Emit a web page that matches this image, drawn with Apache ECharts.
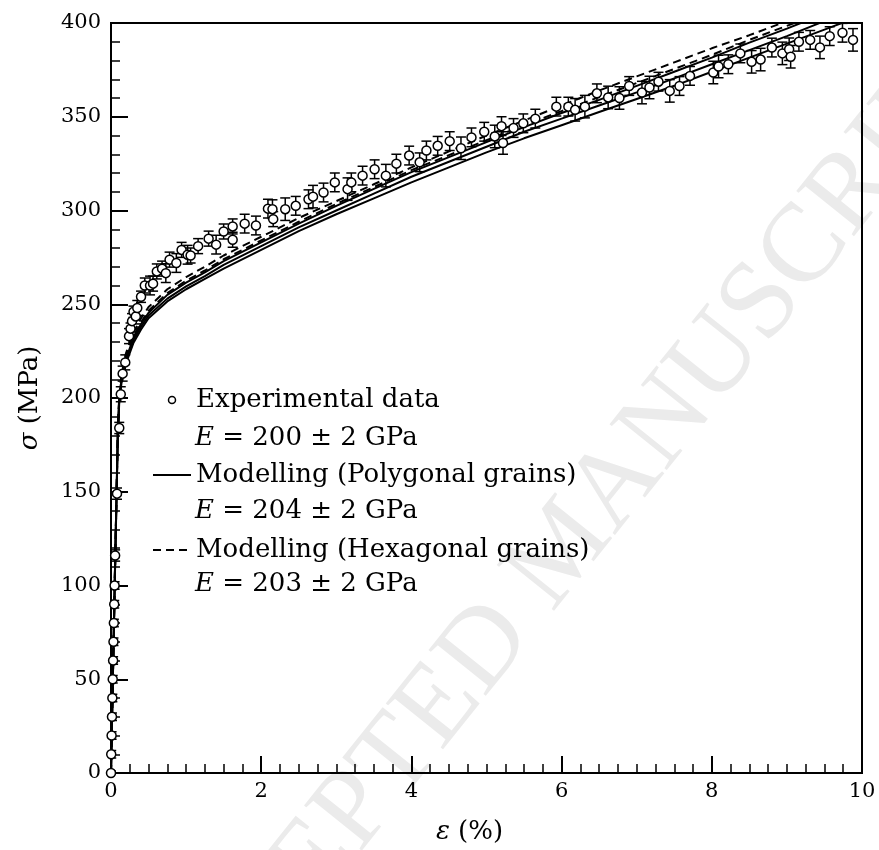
<!DOCTYPE html>
<html>
<head>
<meta charset="utf-8">
<script src="https://cdn.jsdelivr.net/npm/echarts@6/dist/echarts.min.js"></script>
<style>
  html, body { margin: 0; padding: 0; background: #fff; }
  #chart { width: 879px; height: 850px; }
</style>
</head>
<body>
<div id="chart"></div>
<script>
// experimental points (strain %, stress MPa, error bar MPa)
var expX = [0, 0.003, 0.008, 0.013, 0.018, 0.023, 0.028, 0.033, 0.038, 0.043, 0.048, 0.055, 0.08, 0.11, 0.13,
  0.155, 0.19, 0.24, 0.26, 0.28, 0.30, 0.33, 0.35, 0.40, 0.45, 0.52, 0.56, 0.61, 0.68, 0.73, 0.78, 0.87, 0.94,
  1.02, 1.06, 1.16, 1.30, 1.40, 1.50, 1.62, 1.62, 1.78, 1.93, 2.09, 2.15, 2.16, 2.32, 2.46, 2.63, 2.69, 2.83,
  2.98, 3.15, 3.20, 3.35, 3.51, 3.66, 3.80, 3.97, 4.11, 4.20, 4.35, 4.51, 4.66, 4.80, 4.97, 5.11, 5.20, 5.22,
  5.36, 5.49, 5.65, 5.93, 6.09, 6.18, 6.31, 6.47, 6.62, 6.77, 6.90, 7.07, 7.17, 7.29, 7.44, 7.57, 7.71, 8.02,
  8.09, 8.22, 8.38, 8.53, 8.65, 8.80, 8.94, 9.03, 9.05, 9.16, 9.31, 9.44, 9.57, 9.74, 9.88];
var expY = [0, 10, 20, 30, 40, 50, 60, 70, 80, 90, 100, 116, 149, 184, 202,
  213, 219, 233, 237, 241, 246, 243.5, 248, 254, 260, 260, 261, 267.5, 269, 266.6, 273.8, 272, 279,
  276.4, 276, 281, 285, 281.8, 288.8, 291.5, 284.4, 293, 292, 301, 300.7, 295.4, 300.7, 302.5, 306, 307.4, 309.6,
  315, 311.4, 315, 318.6, 322, 318.6, 325, 329.3, 325.7, 332, 334.5, 337, 333.2, 339, 342, 339.5, 345, 336,
  344, 346.5, 349, 355.4, 355.4, 353.7, 355.4, 362.5, 360.3, 360, 366.4, 362.9, 365.6, 368.7, 363.8, 366.4, 371.8, 373.6,
  376.8, 378, 383.8, 379.3, 380.5, 386.9, 383.8, 386, 382, 390, 391, 387, 393, 394.8, 391];
var expErr = [1, 2, 2, 2, 2, 2, 2, 2, 2, 2, 2, 3, 3, 3, 4,
  4, 4, 4, 3, 4, 3, 4, 4, 3, 4, 5, 4, 4, 4, 5, 4, 5, 4,
  5, 4, 4, 4, 5, 4, 4, 4, 5, 5, 5, 5, 4, 6, 5, 5, 6, 5,
  5, 6, 5, 5, 5, 6, 5, 5, 5, 5, 5, 5, 6, 5, 5, 6, 5, 6,
  5, 5, 5, 5, 5, 6, 6, 5, 6, 6, 5, 6, 6, 5, 6, 5, 5, 6,
  6, 5, 5, 6, 6, 5, 6, 6, 6, 5, 5, 6, 5, 5, 6];

// modelling curves
var modelX = [0, 0.05, 0.09, 0.11, 0.14, 0.2, 0.3, 0.4, 0.5, 0.75, 1, 1.25, 1.5, 2, 2.5, 3, 3.5, 4, 4.5, 5, 5.5, 6, 6.5, 7, 7.5, 8, 8.5, 9, 9.5, 10];
var polyA = [0, 102, 180, 200, 210, 221, 232, 239.5, 245.5, 255, 261.5, 267, 273, 283, 293, 302.5, 311.5, 320.5, 328.5, 336.5, 344.5, 352, 359, 366.5, 374, 381.5, 389.5, 397, 405, 413];
var polyB = [0, 102, 180, 200, 210, 220, 231, 238, 244, 253, 259.5, 265, 271, 281, 291, 300, 309, 318, 326, 334, 342, 349, 356, 363, 370.5, 378, 385.5, 393, 401, 409];
var polyC = [0, 101, 178, 198, 208, 218.5, 229.5, 236.5, 242.5, 251.5, 258, 263.5, 269, 279, 289, 298, 306.5, 315, 323, 331, 338.5, 345.5, 352.5, 359.5, 366.5, 374, 381.5, 389, 396.5, 404];
var hexA = [0, 102, 181, 201, 212, 224, 235, 242.5, 248.5, 258, 264.5, 270, 276, 286, 296, 305, 314, 323, 331.5, 340, 348, 356, 364, 371.5, 379, 386.5, 393.5, 401, 409, 417];
var hexB = [0, 102, 181, 201, 211, 222, 233, 240.5, 246.5, 256, 262.5, 268, 274, 284, 294, 303.5, 312.5, 321.5, 329.5, 337.5, 345.5, 353, 360.5, 368, 375.5, 383, 391, 398.5, 406, 414];

var legendNames = ['Experimental data', 'Modelling (Polygonal grains)', 'Modelling (Hexagonal grains)'];
var modulusTexts = ['200 \u00b1 2 GPa', '204 \u00b1 2 GPa', '203 \u00b1 2 GPa'];

function pairs(xs, ys) {
  return xs.map(function (x, i) { return [x, ys[i]]; });
}
var expData = expX.map(function (x, i) { return [x, expY[i], expErr[i]]; });

var serif = 'DejaVu Serif';
var myChart = echarts.init(document.getElementById('chart'));

function modelSeries(name, ys, dashed) {
  return {
    name: name,
    type: 'line',
    data: pairs(modelX, ys),
    symbol: 'none',
    z: 3,
    lineStyle: { color: '#000', width: 2, type: dashed ? [8, 5] : 'solid' },
    itemStyle: { color: '#000' }
  };
}

var option = {
  backgroundColor: '#fff',
  animation: false,
  grid: {
    left: 111, right: 17, top: 23, bottom: 76,
    show: true, borderColor: '#000', borderWidth: 2
  },
  legend: {
    orient: 'vertical',
    left: 147, top: 379,
    itemWidth: 38, itemHeight: 7,
    itemGap: 43,
    textStyle: { fontFamily: serif, fontSize: 26, color: '#000', lineHeight: 32 },
    data: [
      { name: legendNames[0], icon: 'circle', itemStyle: { color: '#fff', borderColor: '#000', borderWidth: 1.5 } },
      { name: legendNames[1], itemStyle: { opacity: 0 } },
      { name: legendNames[2], itemStyle: { opacity: 0 } }
    ]
  },
  xAxis: {
    type: 'value', min: 0, max: 10, interval: 2,
    name: '{i|\u03b5} (%)',
    nameLocation: 'middle', nameGap: 46,
    nameTextStyle: {
      fontFamily: serif, fontSize: 26, color: '#000', padding: [0, 34, 0, 0],
      rich: { i: { fontFamily: serif, fontStyle: 'italic', fontSize: 26, color: '#000' } }
    },
    axisLine: { show: true, lineStyle: { color: '#000', width: 2 } },
    axisTick: { inside: true, length: 17, lineStyle: { color: '#000', width: 2 } },
    minorTick: { show: true, splitNumber: 8, length: 9, lineStyle: { color: '#000', width: 1.5 } },
    axisLabel: { fontFamily: serif, fontSize: 21, color: '#000', margin: 8 },
    splitLine: { show: false }
  },
  yAxis: {
    type: 'value', min: 0, max: 400, interval: 50,
    name: '{i|\u03c3} (MPa)',
    nameLocation: 'middle', nameGap: 68, nameRotate: 90,
    nameTextStyle: {
      fontFamily: serif, fontSize: 26, color: '#000',
      rich: { i: { fontFamily: serif, fontStyle: 'italic', fontSize: 26, color: '#000' } }
    },
    axisLine: { show: true, lineStyle: { color: '#000', width: 2 } },
    axisTick: { inside: true, length: 17, lineStyle: { color: '#000', width: 2 } },
    minorTick: { show: true, splitNumber: 5, length: 9, lineStyle: { color: '#000', width: 1.5 } },
    axisLabel: { fontFamily: serif, fontSize: 21, color: '#000', margin: 10 },
    splitLine: { show: false }
  },
  graphic: [
    {
      type: 'text', z: -10, silent: true,
      x: 565, y: 550, rotation: 51.3 * Math.PI / 180,
      style: {
        text: 'ACCEPTED MANUSCRIPT', fontFamily: 'Liberation Serif', fontSize: 112,
        fill: '#ebebeb', align: 'center', verticalAlign: 'middle'
      }
    }
  ].concat(modulusTexts.map(function (t, i) {
    return {
      type: 'text', x: 195, y: 438 + i * 73, z: 10,
      style: {
        text: '{i|E} = ' + t,
        fontFamily: serif, fontSize: 26, fill: '#000', verticalAlign: 'middle',
        rich: { i: { fontFamily: serif, fontStyle: 'italic', fontSize: 26, fill: '#000' } }
      }
    };
  })),
  series: [
    modelSeries(legendNames[1], polyA, false),
    modelSeries(legendNames[1], polyB, false),
    modelSeries(legendNames[1], polyC, false),
    modelSeries(legendNames[2], hexA, true),
    modelSeries(legendNames[2], hexB, true),
    {
      name: legendNames[0],
      type: 'custom',
      data: expData,
      encode: { x: 0, y: 1 },
      z: 4,
      clip: true,
      renderItem: function (params, api) {
        var x = api.value(0), y = api.value(1), e = api.value(2);
        var top = api.coord([x, y + e]);
        var bot = api.coord([x, y - e]);
        var hw = 5;
        var st = { stroke: '#000', lineWidth: 1.5 };
        return {
          type: 'group',
          children: [
            { type: 'line', shape: { x1: top[0], y1: top[1], x2: bot[0], y2: bot[1] }, style: st },
            { type: 'line', shape: { x1: top[0] - hw, y1: top[1], x2: top[0] + hw, y2: top[1] }, style: st },
            { type: 'line', shape: { x1: bot[0] - hw, y1: bot[1], x2: bot[0] + hw, y2: bot[1] }, style: st }
          ]
        };
      }
    },
    {
      name: legendNames[0],
      type: 'scatter',
      data: expData,
      symbol: 'circle',
      symbolSize: 9,
      z: 5,
      itemStyle: { color: '#fff', borderColor: '#000', borderWidth: 1.5, opacity: 1 }
    }
  ]
};
myChart.setOption(option);
</script>
</body>
</html>
